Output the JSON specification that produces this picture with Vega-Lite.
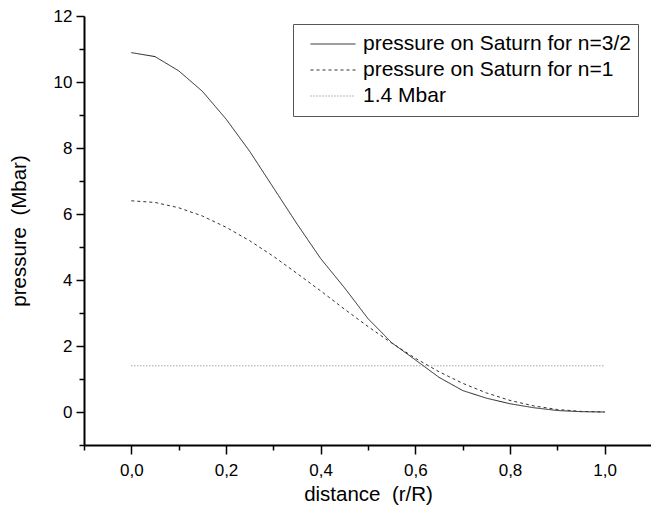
{
  "$schema": "https://vega.github.io/schema/vega-lite/v6.json",
  "autosize": "none",
  "padding": {"left": 84, "top": 16, "right": 0, "bottom": 69},
  "width": 568,
  "height": 429,
  "background": "white",
  "config": {
    "view": {"stroke": null},
    "font": "Liberation Sans",
    "axis": {
      "labelFont": "Liberation Sans",
      "titleFont": "Liberation Sans",
      "labelFontSize": 17,
      "titleFontSize": 20.5,
      "titleFontWeight": "normal",
      "labelColor": "#000",
      "titleColor": "#000",
      "domainColor": "#000",
      "domainWidth": 2,
      "tickColor": "#000",
      "tickWidth": 1.5,
      "grid": false,
      "labelOverlap": false
    }
  },
  "data": {
    "values": [
      {"x": 0.0, "p": 10.89, "s": "pressure on Saturn for n=3/2"},
      {"x": 0.05, "p": 10.77, "s": "pressure on Saturn for n=3/2"},
      {"x": 0.1, "p": 10.34, "s": "pressure on Saturn for n=3/2"},
      {"x": 0.15, "p": 9.72, "s": "pressure on Saturn for n=3/2"},
      {"x": 0.2, "p": 8.88, "s": "pressure on Saturn for n=3/2"},
      {"x": 0.25, "p": 7.9, "s": "pressure on Saturn for n=3/2"},
      {"x": 0.3, "p": 6.8, "s": "pressure on Saturn for n=3/2"},
      {"x": 0.35, "p": 5.7, "s": "pressure on Saturn for n=3/2"},
      {"x": 0.4, "p": 4.65, "s": "pressure on Saturn for n=3/2"},
      {"x": 0.45, "p": 3.77, "s": "pressure on Saturn for n=3/2"},
      {"x": 0.5, "p": 2.83, "s": "pressure on Saturn for n=3/2"},
      {"x": 0.55, "p": 2.1, "s": "pressure on Saturn for n=3/2"},
      {"x": 0.6, "p": 1.58, "s": "pressure on Saturn for n=3/2"},
      {"x": 0.65, "p": 1.05, "s": "pressure on Saturn for n=3/2"},
      {"x": 0.7, "p": 0.65, "s": "pressure on Saturn for n=3/2"},
      {"x": 0.75, "p": 0.42, "s": "pressure on Saturn for n=3/2"},
      {"x": 0.8, "p": 0.25, "s": "pressure on Saturn for n=3/2"},
      {"x": 0.85, "p": 0.13, "s": "pressure on Saturn for n=3/2"},
      {"x": 0.9, "p": 0.045, "s": "pressure on Saturn for n=3/2"},
      {"x": 0.95, "p": 0.01, "s": "pressure on Saturn for n=3/2"},
      {"x": 1.0, "p": 0.0, "s": "pressure on Saturn for n=3/2"},
      {"x": 0.0, "p": 6.4, "s": "pressure on Saturn for n=1"},
      {"x": 0.05, "p": 6.35, "s": "pressure on Saturn for n=1"},
      {"x": 0.1, "p": 6.19, "s": "pressure on Saturn for n=1"},
      {"x": 0.15, "p": 5.94, "s": "pressure on Saturn for n=1"},
      {"x": 0.2, "p": 5.6, "s": "pressure on Saturn for n=1"},
      {"x": 0.25, "p": 5.19, "s": "pressure on Saturn for n=1"},
      {"x": 0.3, "p": 4.72, "s": "pressure on Saturn for n=1"},
      {"x": 0.35, "p": 4.2, "s": "pressure on Saturn for n=1"},
      {"x": 0.4, "p": 3.67, "s": "pressure on Saturn for n=1"},
      {"x": 0.45, "p": 3.12, "s": "pressure on Saturn for n=1"},
      {"x": 0.5, "p": 2.59, "s": "pressure on Saturn for n=1"},
      {"x": 0.55, "p": 2.09, "s": "pressure on Saturn for n=1"},
      {"x": 0.6, "p": 1.63, "s": "pressure on Saturn for n=1"},
      {"x": 0.65, "p": 1.22, "s": "pressure on Saturn for n=1"},
      {"x": 0.7, "p": 0.87, "s": "pressure on Saturn for n=1"},
      {"x": 0.75, "p": 0.58, "s": "pressure on Saturn for n=1"},
      {"x": 0.8, "p": 0.35, "s": "pressure on Saturn for n=1"},
      {"x": 0.85, "p": 0.185, "s": "pressure on Saturn for n=1"},
      {"x": 0.9, "p": 0.076, "s": "pressure on Saturn for n=1"},
      {"x": 0.95, "p": 0.018, "s": "pressure on Saturn for n=1"},
      {"x": 1.0, "p": 0.0, "s": "pressure on Saturn for n=1"},
      {"x": 0.0, "p": 1.4, "s": "1.4 Mbar"},
      {"x": 1.0, "p": 1.4, "s": "1.4 Mbar"}
    ]
  },
  "mark": {"type": "line", "strokeWidth": 1},
  "encoding": {
    "x": {
      "field": "x",
      "type": "quantitative",
      "scale": {"domain": [-0.1, 1.1], "nice": false, "zero": false},
      "axis": {
        "title": "distance \u00a0(r/R)",
        "values": [-0.1, 0, 0.1, 0.2, 0.3, 0.4, 0.5, 0.6, 0.7, 0.8, 0.9, 1.0, 1.1],
        "labelExpr": "abs(round(datum.value*10)) % 2 == 0 ? replace(format(datum.value, '.1f'), '.', ',') : ''",
        "tickSize": {"condition": {"test": "abs(round(datum.value*10)) % 2 == 1", "value": 5}, "value": 9},
        "labelPadding": 8,
        "titlePadding": 6
      }
    },
    "y": {
      "field": "p",
      "type": "quantitative",
      "scale": {"domain": [-1, 12], "nice": false, "zero": false},
      "axis": {
        "title": "pressure \u00a0(Mbar)",
        "values": [-1, 0, 1, 2, 3, 4, 5, 6, 7, 8, 9, 10, 11, 12],
        "labelExpr": "abs(datum.value) % 2 == 0 ? datum.label : ''",
        "tickSize": {"condition": {"test": "abs(datum.value) % 2 == 1", "value": 5}, "value": 8},
        "labelPadding": 4,
        "titlePadding": 24
      }
    },
    "strokeDash": {
      "field": "s",
      "type": "nominal",
      "scale": {
        "domain": ["pressure on Saturn for n=3/2", "pressure on Saturn for n=1", "1.4 Mbar"],
        "range": [[1, 0], [3, 3], [1, 2]]
      },
      "legend": {
        "title": null,
        "orient": "none",
        "legendX": 209,
        "legendY": 8,
        "symbolType": "stroke",
        "symbolSize": 2025,
        "symbolStrokeWidth": 1,
        "symbolOffset": 10,
        "clipHeight": 26,
        "rowPadding": 0,
        "padding": 7,
        "labelOffset": 7,
        "labelFont": "Liberation Sans",
        "labelFontSize": 21,
        "labelColor": "#000",
        "labelLimit": 400,
        "strokeColor": "#555",
        "fillColor": "white"
      }
    },
    "color": {
      "field": "s",
      "type": "nominal",
      "scale": {
        "domain": ["pressure on Saturn for n=3/2", "pressure on Saturn for n=1", "1.4 Mbar"],
        "range": ["#222222", "#333333", "#777777"]
      },
      "legend": {
        "title": null,
        "orient": "none",
        "legendX": 209,
        "legendY": 8,
        "symbolType": "stroke",
        "symbolSize": 2025,
        "symbolStrokeWidth": 1,
        "symbolOffset": 10,
        "clipHeight": 26,
        "rowPadding": 0,
        "padding": 7,
        "labelOffset": 7,
        "labelFont": "Liberation Sans",
        "labelFontSize": 21,
        "labelColor": "#000",
        "labelLimit": 400,
        "strokeColor": "#555",
        "fillColor": "white"
      }
    }
  }
}
